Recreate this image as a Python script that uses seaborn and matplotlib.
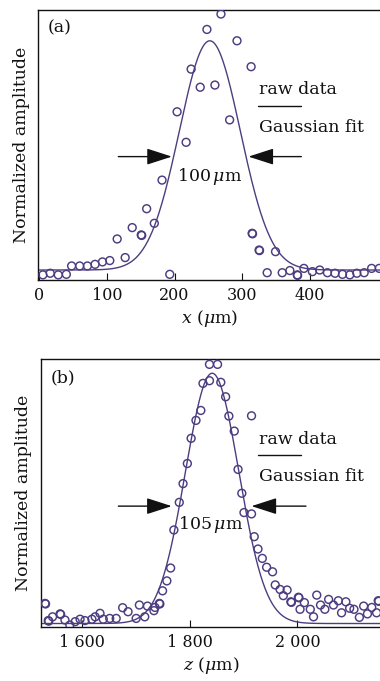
import numpy as np
import matplotlib
matplotlib.use("Agg")
import matplotlib.pyplot as plt
import seaborn as sns
from matplotlib.lines import Line2D

# ---- panel (a): lateral profile, x in um, amplitude as fraction of axis height
x_a = [5.7, 16.5, 28.4, 40.3, 48.1, 60.0, 71.4, 82.7, 93.6, 104.4, 115.3, 127.1,
       137.5, 150.8, 151.5, 158.8, 170.1, 181.5, 192.9, 203.7, 217.0, 224.4, 237.8,
       247.7, 259.5, 268.4, 281.2, 292.1, 312.9, 314.4, 315.0, 324.7, 325.3, 336.6,
       348.9, 358.8, 370.1, 381.0, 381.5, 390.8, 403.3, 414.1, 425.5, 436.7, 447.7,
       458.5, 468.9, 479.7, 490.7, 501.9]
amp_a = [0.019, 0.025, 0.019, 0.021, 0.052, 0.052, 0.052, 0.058, 0.067, 0.072, 0.152, 0.083,
         0.194, 0.167, 0.165, 0.264, 0.210, 0.370, 0.021, 0.623, 0.510, 0.781, 0.714,
         0.928, 0.722, 0.985, 0.593, 0.886, 0.790, 0.173, 0.171, 0.111, 0.109, 0.027,
         0.105, 0.027, 0.035, 0.019, 0.017, 0.043, 0.031, 0.037, 0.027, 0.025, 0.021,
         0.019, 0.025, 0.027, 0.043, 0.043]
# gaussian fit (a): centre, sigma, peak, baseline
fit_a_center, fit_a_sigma, fit_a_peak, fit_a_base = 252.0, 45.0, 0.886, 0.037
ticks_a = [0, 100, 200, 300, 400]

# ---- panel (b): axial profile, z in um
z_b = [1532, 1533, 1538, 1539, 1546, 1560, 1561, 1569, 1578, 1588, 1597, 1606, 1619,
       1625, 1634, 1640, 1652, 1664, 1676, 1686, 1701, 1707, 1717, 1722, 1734, 1736,
       1744, 1745, 1750, 1758, 1765, 1771, 1781, 1788, 1796, 1803, 1812, 1821, 1825,
       1837, 1837, 1852, 1858, 1867, 1873, 1883, 1890, 1897, 1901, 1915, 1915, 1920,
       1927, 1935, 1943, 1954, 1959, 1968, 1974, 1981, 1988, 1989, 2002, 2003, 2005,
       2013, 2024, 2030, 2036, 2043, 2051, 2058, 2067, 2076, 2082, 2090, 2097, 2105,
       2115, 2123, 2130, 2138, 2147, 2150, 2151]
amp_b = [0.088, 0.086, 0.024, 0.022, 0.038, 0.049, 0.047, 0.026, 0.007, 0.020, 0.029, 0.024, 0.029,
         0.038, 0.051, 0.029, 0.032, 0.032, 0.072, 0.057, 0.032, 0.082, 0.038, 0.078, 0.061, 0.073,
         0.088, 0.086, 0.135, 0.172, 0.220, 0.362, 0.465, 0.535, 0.610, 0.704, 0.771, 0.808, 0.909,
         0.919, 0.980, 0.980, 0.913, 0.859, 0.787, 0.731, 0.588, 0.499, 0.427, 0.422, 0.788, 0.337,
         0.291, 0.256, 0.223, 0.206, 0.157, 0.140, 0.117, 0.138, 0.094, 0.092, 0.111, 0.109, 0.066,
         0.091, 0.066, 0.038, 0.119, 0.082, 0.066, 0.103, 0.082, 0.098, 0.053, 0.094, 0.070, 0.066,
         0.036, 0.078, 0.049, 0.073, 0.053, 0.098, 0.096]
fit_b_center, fit_b_sigma, fit_b_peak, fit_b_base = 1842.0, 49.5, 0.947, 0.013
ticks_b = [1600, 1800, 2000]
tick_labels_b = ["1 600", "1 800", "2 000"]

assert len(x_a) == len(amp_a) and len(z_b) == len(amp_b)

PURPLE = "#4d3d80"
INK = "#111111"

sns.set_style("ticks")
plt.rcParams["font.family"] = ["DejaVu Serif"]
plt.rcParams["mathtext.fontset"] = "dejavuserif"
plt.rcParams["axes.edgecolor"] = INK
plt.rcParams["text.color"] = INK
plt.rcParams["xtick.color"] = INK
plt.rcParams["axes.labelcolor"] = INK


def gauss(x, c, s, peak, base):
    return base + (peak - base) * np.exp(-(x - c) ** 2 / (2 * s ** 2))


def panel(ax, xd, yd, fit, xlim, ticks, tick_labels, xlabel, tag, width_txt,
          arrows, txt_pos, leg):
    xf = np.linspace(xlim[0], xlim[1], 600)
    sns.lineplot(x=xf, y=gauss(xf, *fit), ax=ax, color=PURPLE, lw=1.0,
                 sort=False, estimator=None)
    sns.scatterplot(x=xd, y=yd, ax=ax, marker="o", s=32, color=PURPLE,
                    facecolor="none", edgecolor=PURPLE, linewidth=1.05, zorder=3)
    ax.set_xlim(*xlim)
    ax.set_ylim(0, 1)
    ax.set_yticks([])
    ax.set_xticks(ticks)
    ax.set_xticklabels(tick_labels)
    ax.tick_params(axis="x", direction="in", length=5, width=0.8, pad=5, labelsize=11.5)
    for sp in ax.spines.values():
        sp.set_linewidth(1.0)
        sp.set_visible(True)
    ax.spines["right"].set_visible(False)
    ax.set_xlabel(xlabel, fontsize=12.5, labelpad=3)
    ax.set_ylabel("Normalized amplitude", fontsize=12.5, labelpad=6)

    ax.text(0.029, leg[3], tag, transform=ax.transAxes, fontsize=12.5, va="center")
    # legend as in the original: label, short line, label
    ax.text(leg[4], leg[0], "raw data", transform=ax.transAxes, fontsize=12.5, va="center")
    ax.add_line(Line2D([leg[4] - 0.003, leg[4] + 0.122], [leg[1], leg[1]],
                       transform=ax.transAxes, color=INK, lw=1.0))
    ax.text(leg[4], leg[2], "Gaussian fit", transform=ax.transAxes, fontsize=12.5, va="center")

    # FWHM arrows
    (l_tail, l_tip, r_tip, r_tail, ay) = arrows
    style = "-|>,head_length=1.3,head_width=0.42"
    for tail, tip in ((l_tail, l_tip), (r_tail, r_tip)):
        ax.annotate("", xy=(tip, ay), xytext=(tail, ay),
                    arrowprops=dict(arrowstyle=style, color="#111111", lw=1.0,
                                    shrinkA=0, shrinkB=0, mutation_scale=12))
    ax.text(txt_pos[0], txt_pos[1], width_txt, fontsize=12.5, ha="left", va="center")


fig = plt.figure(figsize=(3.80, 6.81), dpi=100)
fig.patch.set_facecolor("white")

ax_a = fig.add_axes([38 / 380, 1 - 280 / 681, 344 / 380, 270 / 681])
panel(ax_a, x_a, amp_a, (fit_a_center, fit_a_sigma, fit_a_peak, fit_a_base),
      (-1.5, 506.0), ticks_a, [str(t) for t in ticks_a], r"$x$ ($\mu$m)", "(a)",
      r"100$\,\mu$m", (117, 196, 309, 387, 0.457), (203, 0.383),
      (0.704, 0.644, 0.566, 0.932, 0.643))

ax_b = fig.add_axes([40.7 / 380, 1 - 627 / 681, 341.3 / 380, 268 / 681])
panel(ax_b, z_b, amp_b, (fit_b_center, fit_b_sigma, fit_b_peak, fit_b_base),
      (1524.0, 2157.0), ticks_b, tick_labels_b, r"$z$ ($\mu$m)", "(b)",
      r"105$\,\mu$m", (1668, 1767, 1915, 2016, 0.451), (1779, 0.381),
      (0.698, 0.642, 0.561, 0.928, 0.6405))

fig.savefig("out.png", dpi=100, facecolor="white")
